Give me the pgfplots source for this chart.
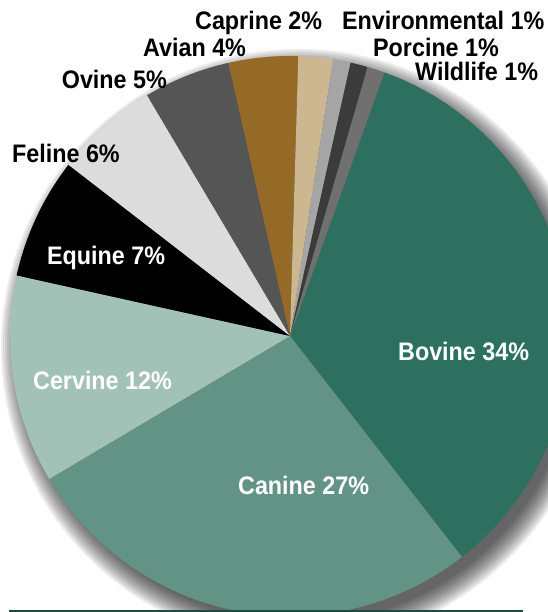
\documentclass[border=0pt]{standalone}
\usepackage{pgfplots}
\pgfplotsset{compat=1.18}
\usepackage{fontspec}
\setmainfont{Liberation Sans}
\definecolor{cBovine}{HTML}{2E7060}
\definecolor{cCanine}{HTML}{639385}
\definecolor{cCervine}{HTML}{A2C2B8}
\definecolor{cEquine}{HTML}{000000}
\definecolor{cFeline}{HTML}{DCDCDC}
\definecolor{cOvine}{HTML}{555555}
\definecolor{cAvian}{HTML}{946A26}
\definecolor{cCaprine}{HTML}{CDB790}
\definecolor{cEnv}{HTML}{A5A5A5}
\definecolor{cPorcine}{HTML}{3B3B3B}
\definecolor{cWildlife}{HTML}{707070}
\definecolor{cLine}{HTML}{1D4D40}
% pie geometry (axis units = bp): centre (290,276), radius 280, first slice starts at 70.3 deg, clockwise
\newcommand\pcx{290}
\newcommand\pcy{276}
\newcommand\pr{280}
% #1 = cumulative percent before slice, #2 = slice percent, #3 = colour
\newcommand\slice[3]{%
  \addplot[fill=#3, draw=none, domain={70.3-3.6*(#1+#2)}:{70.3-3.6*#1}, samples=80, variable=\t]
    ({\pcx+\pr*cos(\t)}, {\pcy+\pr*sin(\t)}) -- (axis cs:\pcx,\pcy) -- cycle;}
\newcommand\lab[4]{\node[anchor=base west, inner sep=0pt, text=#4, xscale=0.975, yscale=1.06,
  font=\bfseries\fontsize{24}{28}\selectfont] at (axis cs:#1,{612-#2}) {#3};}
\begin{document}
\begin{tikzpicture}
\begin{axis}[
  width=548bp, height=612bp, scale only axis,
  xmin=0, xmax=548, ymin=0, ymax=612,
  hide axis, clip=true,
]
% soft drop shadow
\pgfplotsinvokeforeach{276,278,...,298}{
  \fill[black, fill opacity=0.075] (axis cs:299,265) circle[radius=#1bp];
}
% slices: Bovine 34, Canine 27, Cervine 12, Equine 7, Feline 6, Ovine 5,
% Avian 4, Caprine 2, Environmental 1, Porcine 1, Wildlife 1
\slice{0}{34}{cBovine}
\slice{34}{27}{cCanine}
\slice{61}{12}{cCervine}
\slice{73}{7}{cEquine}
\slice{80}{6}{cFeline}
\slice{86}{5}{cOvine}
\slice{91}{4}{cAvian}
\slice{95}{2}{cCaprine}
\slice{97}{1}{cEnv}
\slice{98}{1}{cPorcine}
\slice{99}{1}{cWildlife}
% bottom rule
\addplot[color=cLine, line width=1.6bp] coordinates {(9,1.2) (523,1.2)};
% labels
\lab{195}{30}{Caprine 2\%}{black}
\lab{342}{30}{Environmental 1\%}{black}
\lab{143}{56.7}{Avian 4\%}{black}
\lab{373}{56.7}{Porcine 1\%}{black}
\lab{415}{81}{Wildlife 1\%}{black}
\lab{61.7}{88.3}{Ovine 5\%}{black}
\lab{12}{162.5}{Feline 6\%}{black}
\lab{47}{265}{Equine 7\%}{white}
\lab{33}{390}{Cervine 12\%}{white}
\lab{398}{361}{Bovine 34\%}{white}
\lab{238}{494.3}{Canine 27\%}{white}
\end{axis}
\pgfresetboundingbox
\path[use as bounding box] (current axis.south west) rectangle (current axis.north east);
\end{tikzpicture}
\end{document}
